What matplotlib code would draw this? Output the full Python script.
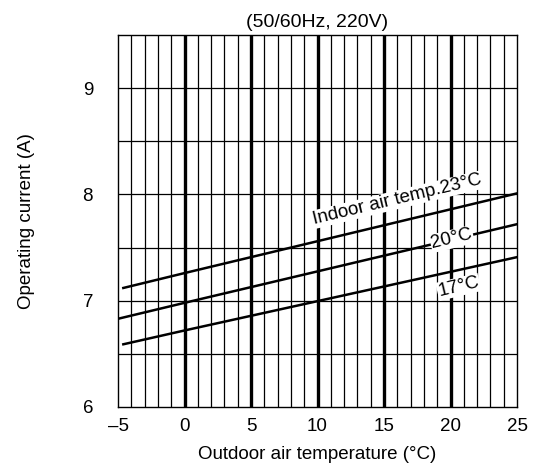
import numpy as np
import matplotlib
matplotlib.use("Agg")
import matplotlib.pyplot as plt

plt.rcParams['font.family'] = ['Liberation Sans', 'DejaVu Sans']

# datos
curvas = {
    "23": {"x": [-4.6, 0, 25], "y": [7.12, 7.26, 8.01]},
    "20": {"x": [-5, 0, 25], "y": [6.83, 6.98, 7.72]},
    "17": {"x": [-4.6, 0, 25], "y": [6.59, 6.72, 7.41]},
}
etiquetas = {
    "23": ("Indoor air temp.23°C", 16.0, 7.95),
    "20": ("20°C", 20.1, 7.58),
    "17": ("17°C", 20.6, 7.13),
}
xticks = [-5, 0, 5, 10, 15, 20, 25]
yticks = [6, 7, 8, 9]

fig = plt.figure(figsize=(5.33, 4.67), dpi=100)
ax = fig.add_axes([0.2214, 0.1285, 0.7486, 0.7965])

# rejilla fina cada 1 grado y cada 0.5 A
for xv in np.arange(-4, 25, 1):
    lw = 2.4 if xv % 5 == 0 else 0.9
    ax.axvline(xv, color="black", lw=lw, zorder=1)
for yv in np.arange(6.5, 9.5, 0.5):
    ax.axhline(yv, color="black", lw=0.9, zorder=1)

for k, c in curvas.items():
    ax.plot(c["x"], c["y"], color="black", lw=1.8, zorder=2)

rot = 13.5
for k, (txt, tx, ty) in etiquetas.items():
    ax.text(tx, ty, txt, fontsize=13.5, rotation=rot, ha="center", va="center",
            rotation_mode="anchor", zorder=3,
            bbox=dict(facecolor="white", edgecolor="none", pad=0.5))

ax.set_xlim(-5, 25)
ax.set_ylim(6, 9.5)
ax.set_xticks(xticks)
ax.set_xticklabels(["–5" if t < 0 else str(t) for t in xticks])
ax.set_yticks(yticks)
ax.tick_params(length=0, labelsize=13.5)
ax.tick_params(axis="x", pad=8)
ax.tick_params(axis="y", pad=18)
for s in ax.spines.values():
    s.set_linewidth(1.0)

ax.set_xlabel("Outdoor air temperature (°C)", fontsize=13.5, labelpad=8)
ax.set_ylabel("Operating current (A)", fontsize=13.5, labelpad=34)
ax.set_title("(50/60Hz, 220V)", fontsize=14, pad=6)

plt.savefig("out.png", dpi=100)
plt.close()
